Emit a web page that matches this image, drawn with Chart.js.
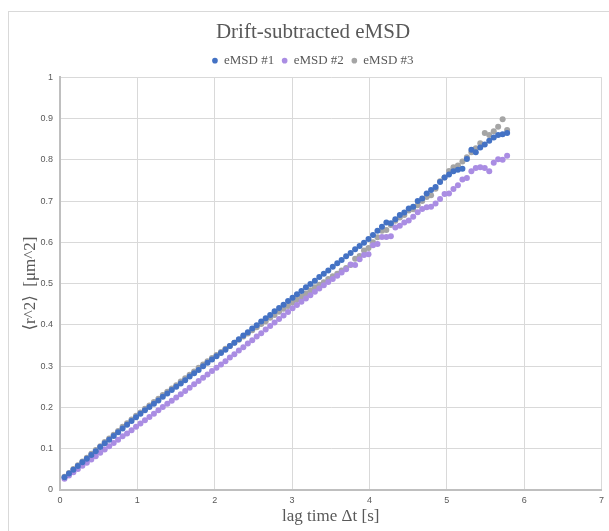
<!DOCTYPE html>
<html>
<head>
<meta charset="utf-8">
<script src="https://cdn.jsdelivr.net/npm/chart.js@4"></script>
<style>
  body { margin: 0; background: #fff; }
  #wrap { position: relative; width: 609px; height: 531px; overflow: hidden; }
  #frame { position: absolute; left: 8px; top: 11px; width: 640px; height: 560px; border: 1px solid #d9d9d9; }
  #chart { position: absolute; left: 0; top: 0; }
</style>
</head>
<body>
<div id="wrap">
  <div id="frame"></div>
  <canvas id="chart" width="609" height="531"></canvas>
</div>
<script>
// lag times (s)
const lagTimes = [
  0.058, 0.116, 0.173, 0.231, 0.289, 0.347, 0.405, 0.462, 0.520, 0.578,
  0.636, 0.694, 0.751, 0.809, 0.867, 0.925, 0.983, 1.040, 1.098, 1.156,
  1.214, 1.272, 1.329, 1.387, 1.445, 1.503, 1.561, 1.618, 1.676, 1.734,
  1.792, 1.850, 1.907, 1.965, 2.023, 2.081, 2.139, 2.196, 2.254, 2.312,
  2.370, 2.428, 2.485, 2.543, 2.601, 2.659, 2.717, 2.774, 2.832, 2.890,
  2.948, 3.006, 3.063, 3.121, 3.179, 3.237, 3.295, 3.352, 3.410, 3.468,
  3.526, 3.584, 3.641, 3.699, 3.757, 3.815, 3.873, 3.930, 3.988, 4.046,
  4.104, 4.162, 4.219, 4.277, 4.335, 4.393, 4.451, 4.508, 4.566, 4.624,
  4.682, 4.740, 4.797, 4.855, 4.913, 4.971, 5.029, 5.086, 5.144, 5.202,
  5.260, 5.318, 5.375, 5.433, 5.491, 5.549, 5.607, 5.664, 5.722, 5.780
];

// eMSD #1
const emsd1 = [
  0.031, 0.040, 0.049, 0.058, 0.067, 0.076, 0.085, 0.094, 0.104, 0.113,
  0.122, 0.131, 0.140, 0.149, 0.158, 0.167, 0.176, 0.185, 0.193, 0.201,
  0.209, 0.217, 0.226, 0.234, 0.242, 0.250, 0.258, 0.266, 0.275, 0.283,
  0.291, 0.300, 0.308, 0.316, 0.324, 0.332, 0.340, 0.349, 0.357, 0.365,
  0.374, 0.382, 0.391, 0.399, 0.408, 0.416, 0.424, 0.433, 0.441, 0.449,
  0.458, 0.466, 0.474, 0.482, 0.491, 0.499, 0.507, 0.516, 0.524, 0.532,
  0.541, 0.549, 0.557, 0.566, 0.574, 0.583, 0.591, 0.599, 0.608, 0.618,
  0.628, 0.638, 0.648, 0.646, 0.656, 0.666, 0.672, 0.682, 0.686, 0.700,
  0.706, 0.718, 0.727, 0.734, 0.746, 0.757, 0.764, 0.772, 0.776, 0.778,
  0.802, 0.824, 0.818, 0.830, 0.837, 0.846, 0.854, 0.860, 0.862, 0.865
];

// eMSD #2
const emsd2 = [
  0.027, 0.035, 0.043, 0.051, 0.059, 0.066, 0.074, 0.082, 0.090, 0.098,
  0.106, 0.114, 0.122, 0.130, 0.137, 0.145, 0.153, 0.161, 0.169, 0.177,
  0.185, 0.193, 0.201, 0.209, 0.216, 0.224, 0.232, 0.240, 0.248, 0.256,
  0.264, 0.272, 0.280, 0.288, 0.296, 0.304, 0.312, 0.321, 0.329, 0.338,
  0.346, 0.355, 0.363, 0.372, 0.380, 0.389, 0.397, 0.406, 0.414, 0.423,
  0.431, 0.440, 0.448, 0.456, 0.464, 0.472, 0.480, 0.488, 0.496, 0.504,
  0.511, 0.519, 0.527, 0.535, 0.546, 0.545, 0.559, 0.569, 0.571, 0.593,
  0.596, 0.613, 0.613, 0.615, 0.636, 0.640, 0.648, 0.653, 0.662, 0.673,
  0.681, 0.685, 0.686, 0.694, 0.705, 0.717, 0.718, 0.729, 0.738, 0.752,
  0.756, 0.772, 0.780, 0.782, 0.780, 0.772, 0.793, 0.801, 0.800, 0.810
];

// eMSD #3
const emsd3 = [
  0.032, 0.041, 0.051, 0.060, 0.069, 0.078, 0.088, 0.097, 0.106, 0.116,
  0.125, 0.134, 0.143, 0.153, 0.162, 0.171, 0.180, 0.188, 0.197, 0.205,
  0.213, 0.221, 0.230, 0.238, 0.246, 0.254, 0.263, 0.271, 0.279, 0.287,
  0.296, 0.304, 0.312, 0.320, 0.327, 0.334, 0.342, 0.349, 0.357, 0.364,
  0.372, 0.379, 0.387, 0.394, 0.402, 0.409, 0.417, 0.424, 0.432, 0.439,
  0.446, 0.454, 0.461, 0.469, 0.476, 0.484, 0.491, 0.497, 0.503, 0.511,
  0.518, 0.524, 0.532, 0.538, 0.545, 0.560, 0.567, 0.580, 0.586, 0.600,
  0.612, 0.628, 0.630, 0.642, 0.652, 0.660, 0.666, 0.677, 0.680, 0.690,
  0.700, 0.710, 0.714, 0.730, 0.748, 0.757, 0.773, 0.782, 0.786, 0.796,
  0.806, 0.818, 0.828, 0.840, 0.865, 0.860, 0.869, 0.880, 0.898, 0.872
];

const seriesNames = ['eMSD #1', 'eMSD #2', 'eMSD #3'];
const seriesColors = ['#4472C4', '#AA8DE3', '#A5A5A5'];

const toPoints = vals => vals.map((v, i) => ({ x: lagTimes[i], y: v }));

const serif = "'Liberation Serif', 'Times New Roman', 'DejaVu Serif', serif";
const tickFont = { family: "'Liberation Sans', Arial, sans-serif", size: 9 };

const ctx = document.getElementById('chart').getContext('2d');
new Chart(ctx, {
    type: 'scatter',
    data: {
        datasets: [emsd1, emsd2, emsd3].map((vals, k) => ({
            label: seriesNames[k],
            data: toPoints(vals),
            backgroundColor: seriesColors[k],
            borderColor: seriesColors[k],
            pointRadius: 3,
            pointBorderWidth: 0,
            pointHoverRadius: 3
        }))
    },
    options: {
        responsive: false,
        animation: false,
        layout: { padding: { top: 20, right: 3, left: 20, bottom: 0 } },
        plugins: {
            title: {
                display: true,
                text: 'Drift-subtracted eMSD',
                color: '#595959',
                font: { family: serif, size: 21, weight: 'normal' },
                padding: { top: 0, bottom: 1 }
            },
            legend: {
                position: 'top',
                labels: {
                    usePointStyle: true,
                    pointStyle: 'circle',
                    boxWidth: 5,
                    boxHeight: 4,
                    padding: 8,
                    color: '#595959',
                    font: { family: serif, size: 13 }
                }
            },
            tooltip: { enabled: false }
        },
        scales: {
            x: {
                type: 'linear',
                min: 0,
                max: 7,
                ticks: { stepSize: 1, color: '#595959', font: tickFont, padding: 5 },
                grid: { color: '#d9d9d9', drawTicks: false },
                border: { color: '#bfbfbf', width: 2 },
                title: {
                    display: true,
                    text: 'lag time \u0394t [s]',
                    color: '#595959',
                    font: { family: serif, size: 17 },
                    padding: { top: 3, bottom: 4 }
                },
                afterFit: s => { s.height = 41; }
            },
            y: {
                min: 0,
                max: 1,
                ticks: {
                    stepSize: 0.1,
                    color: '#595959',
                    font: tickFont,
                    padding: 7,
                    callback: v => String(Number(v.toFixed(1)))
                },
                grid: { color: '#d9d9d9', drawTicks: false },
                border: { color: '#bfbfbf', width: 2 },
                title: {
                    display: true,
                    text: '\u27E8r^2\u27E9  [\u03BCm^2]',
                    color: '#595959',
                    font: { family: serif, size: 17 },
                    padding: { top: 0, bottom: 0 }
                },
                afterFit: s => { s.width = 40; }
            }
        }
    }
});
</script>
</body>
</html>
